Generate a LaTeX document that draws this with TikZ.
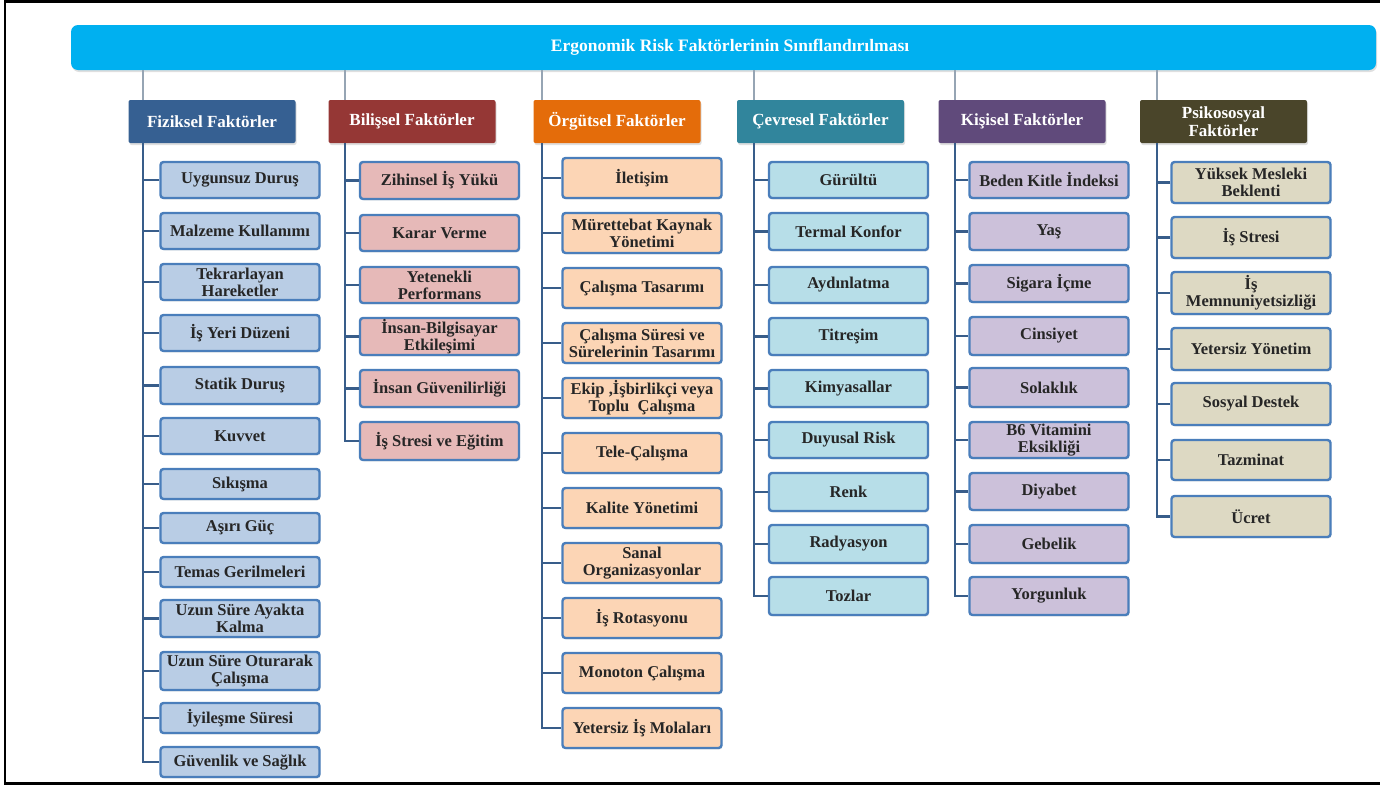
\documentclass[tikz,border=0pt]{standalone}
\usepackage{fontspec}
\setmainfont{Liberation Serif}
\usetikzlibrary{calc,shadows}
\definecolor{barcyan}{RGB}{0,176,240}
\definecolor{hFiz}{RGB}{54,96,146}
\definecolor{hBil}{RGB}{149,55,53}
\definecolor{hOrg}{RGB}{228,108,10}
\definecolor{hCev}{RGB}{49,133,156}
\definecolor{hKis}{RGB}{96,74,123}
\definecolor{hPsi}{RGB}{74,69,42}
\definecolor{fFiz}{RGB}{185,205,229}
\definecolor{fBil}{RGB}{230,185,184}
\definecolor{fOrg}{RGB}{252,213,181}
\definecolor{fCev}{RGB}{183,222,232}
\definecolor{fKis}{RGB}{204,193,218}
\definecolor{fPsi}{RGB}{221,217,195}
\definecolor{itemborder}{RGB}{74,126,187}
\definecolor{branchcol}{RGB}{56,93,138}
\definecolor{conncol}{RGB}{150,165,180}
\definecolor{itemtext}{RGB}{38,38,38}
\newcommand\myitem[6]{\node[itembox, fill=#2, minimum height={#5-#4}] (#1) at (#3,{(#4+#5)/2}) {#6};}
\begin{document}
\begin{tikzpicture}[x=1pt,y=-1pt,
  itembox/.style={draw=itemborder, line width=2.4pt, rounded corners=3pt, minimum width=159pt,
    inner sep=0pt, align=center, text=itemtext, font=\bfseries\fontsize{16.5}{17}\selectfont,
    drop shadow={opacity=0.15, shadow xshift=1pt, shadow yshift=-1.5pt}},
  hdrbox/.style={fill=#1, text=white, rounded corners=2pt, minimum width=167pt, minimum height=43pt,
    inner sep=0pt, align=center, font=\bfseries\fontsize{17}{18}\selectfont,
    drop shadow={opacity=0.25, shadow xshift=1pt, shadow yshift=-2pt}},
  branch/.style={draw=branchcol, line width=2.8pt},
  conn/.style={draw=conncol, line width=1.2pt},
  frameline/.style={draw=black, line width=2.5pt}]
\useasboundingbox (0,0) rectangle (1380,785);
\draw[frameline] (1380,1.5) -- (5,1.5) -- (5,783.5) -- (1380,783.5);
% title bar
\node[fill=barcyan, rounded corners=7pt, minimum width=1305pt, minimum height=45pt, inner sep=0pt,
  drop shadow={opacity=0.25, shadow xshift=1pt, shadow yshift=-2pt},
  text=white, font=\bfseries\fontsize{17.5}{19}\selectfont] (bar) at (723.5,47.5)
  {\hspace*{13pt}\raisebox{2pt}{Ergonomik Risk Faktörlerinin Sınıflandırılması}};
% headers
\node[hdrbox=hFiz] (hf) at (212,121.5) {Fiziksel Faktörler};
\node[hdrbox=hBil] (hb) at (412,121.5) {Bilişsel Faktörler};
\node[hdrbox=hOrg] (ho) at (617,121.5) {Örgütsel Faktörler};
\node[hdrbox=hCev] (hc) at (820.5,121.5) {Çevresel Faktörler};
\node[hdrbox=hKis] (hk) at (1022,121.5) {Kişisel Faktörler};
\node[hdrbox=hPsi] (hp) at (1223.5,121.5) {Psikososyal\\Faktörler};
% branch x coordinates
\coordinate (xf) at (143,143);
\coordinate (xb) at (345,143);
\coordinate (xo) at (542,143);
\coordinate (xc) at (754,143);
\coordinate (xk) at (955,143);
\coordinate (xp) at (1157,143);
% connectors from bar
\foreach \h/\x in {hf/xf,hb/xb,ho/xo,hc/xc,hk/xk,hp/xp}
  \draw[conn] (bar.south -| \x) -- (\h.north -| \x);
% Fiziksel items
\myitem{f1}{fFiz}{240}{162}{198}{Uygunsuz Duruş}
\myitem{f2}{fFiz}{240}{213}{249}{Malzeme Kullanımı}
\myitem{f3}{fFiz}{240}{264}{300}{Tekrarlayan\\Hareketler}
\myitem{f4}{fFiz}{240}{315}{351}{İş Yeri Düzeni}
\myitem{f5}{fFiz}{240}{367}{404}{Statik Duruş}
\myitem{f6}{fFiz}{240}{418}{454}{Kuvvet}
\myitem{f7}{fFiz}{240}{469}{499}{Sıkışma}
\myitem{f8}{fFiz}{240}{513}{543}{Aşırı Güç}
\myitem{f9}{fFiz}{240}{557}{587}{Temas Gerilmeleri}
\myitem{f10}{fFiz}{240}{600}{637}{Uzun Süre Ayakta\\Kalma}
\myitem{f11}{fFiz}{240}{652}{690}{Uzun Süre Oturarak\\Çalışma}
\myitem{f12}{fFiz}{240}{703}{733}{İyileşme Süresi}
\myitem{f13}{fFiz}{240}{747}{777}{Güvenlik ve Sağlık}
% Bilişsel items
\myitem{b1}{fBil}{439.5}{162}{199}{Zihinsel İş Yükü}
\myitem{b2}{fBil}{439.5}{215}{251}{Karar Verme}
\myitem{b3}{fBil}{439.5}{267}{303}{Yetenekli\\Performans}
\myitem{b4}{fBil}{439.5}{318}{355}{İnsan-Bilgisayar\\Etkileşimi}
\myitem{b5}{fBil}{439.5}{370}{407}{İnsan Güvenilirliği}
\myitem{b6}{fBil}{439.5}{422}{460}{İş Stresi ve Eğitim}
% Örgütsel items
\myitem{o1}{fOrg}{642}{158}{198}{İletişim}
\myitem{o2}{fOrg}{642}{213}{253}{Mürettebat Kaynak\\Yönetimi}
\myitem{o3}{fOrg}{642}{268}{308}{Çalışma Tasarımı}
\myitem{o4}{fOrg}{642}{323}{363}{Çalışma Süresi ve\\Sürelerinin Tasarımı}
\myitem{o5}{fOrg}{642}{378}{418}{Ekip ,İşbirlikçi veya\\Toplu\ \ Çalışma}
\myitem{o6}{fOrg}{642}{433}{473}{Tele-Çalışma}
\myitem{o7}{fOrg}{642}{488}{528}{Kalite Yönetimi}
\myitem{o8}{fOrg}{642}{543}{583}{Sanal\\Organizasyonlar}
\myitem{o9}{fOrg}{642}{598}{638}{İş Rotasyonu}
\myitem{o10}{fOrg}{642}{653}{693}{Monoton Çalışma}
\myitem{o11}{fOrg}{642}{708}{748}{Yetersiz İş Molaları}
% Çevresel items
\myitem{c1}{fCev}{848.5}{162}{198}{Gürültü}
\myitem{c2}{fCev}{848.5}{213}{250}{Termal Konfor}
\myitem{c3}{fCev}{848.5}{267}{303}{Aydınlatma}
\myitem{c4}{fCev}{848.5}{318}{355}{Titreşim}
\myitem{c5}{fCev}{848.5}{370}{407}{Kimyasallar}
\myitem{c6}{fCev}{848.5}{422}{458}{Duyusal Risk}
\myitem{c7}{fCev}{848.5}{473}{511}{Renk}
\myitem{c8}{fCev}{848.5}{525}{563}{Radyasyon}
\myitem{c9}{fCev}{848.5}{577}{615}{Tozlar}
% Kişisel items
\myitem{k1}{fKis}{1049}{162}{198}{Beden Kitle İndeksi}
\myitem{k2}{fKis}{1049}{213}{250}{Yaş}
\myitem{k3}{fKis}{1049}{265}{302}{Sigara İçme}
\myitem{k4}{fKis}{1049}{317}{355}{Cinsiyet}
\myitem{k5}{fKis}{1049}{368}{407}{Solaklık}
\myitem{k6}{fKis}{1049}{422}{458}{B6 Vitamini\\Eksikliği}
\myitem{k7}{fKis}{1049}{473}{510}{Diyabet}
\myitem{k8}{fKis}{1049}{525}{563}{Gebelik}
\myitem{k9}{fKis}{1049}{577}{615}{Yorgunluk}
% Psikososyal items
\myitem{p1}{fPsi}{1251}{162}{203}{Yüksek Mesleki\\Beklenti}
\myitem{p2}{fPsi}{1251}{217}{258}{İş Stresi}
\myitem{p3}{fPsi}{1251}{272}{314}{İş\\Memnuniyetsizliği}
\myitem{p4}{fPsi}{1251}{328}{370}{Yetersiz Yönetim}
\myitem{p5}{fPsi}{1251}{383}{425}{Sosyal Destek}
\myitem{p6}{fPsi}{1251}{440}{480}{Tazminat}
\myitem{p7}{fPsi}{1251}{496}{537}{Ücret}
% branches
\draw[branch] (hf.south -| xf) |- (f13.west);
\foreach \i in {1,...,12} \draw[branch] (f\i.west) -- (f\i.west -| xf);
\draw[branch] (hb.south -| xb) |- (b6.west);
\foreach \i in {1,...,5} \draw[branch] (b\i.west) -- (b\i.west -| xb);
\draw[branch] (ho.south -| xo) |- (o11.west);
\foreach \i in {1,...,10} \draw[branch] (o\i.west) -- (o\i.west -| xo);
\draw[branch] (hc.south -| xc) |- (c9.west);
\foreach \i in {1,...,8} \draw[branch] (c\i.west) -- (c\i.west -| xc);
\draw[branch] (hk.south -| xk) |- (k9.west);
\foreach \i in {1,...,8} \draw[branch] (k\i.west) -- (k\i.west -| xk);
\draw[branch] (hp.south -| xp) |- (p7.west);
\foreach \i in {1,...,6} \draw[branch] (p\i.west) -- (p\i.west -| xp);
\end{tikzpicture}
\end{document}
